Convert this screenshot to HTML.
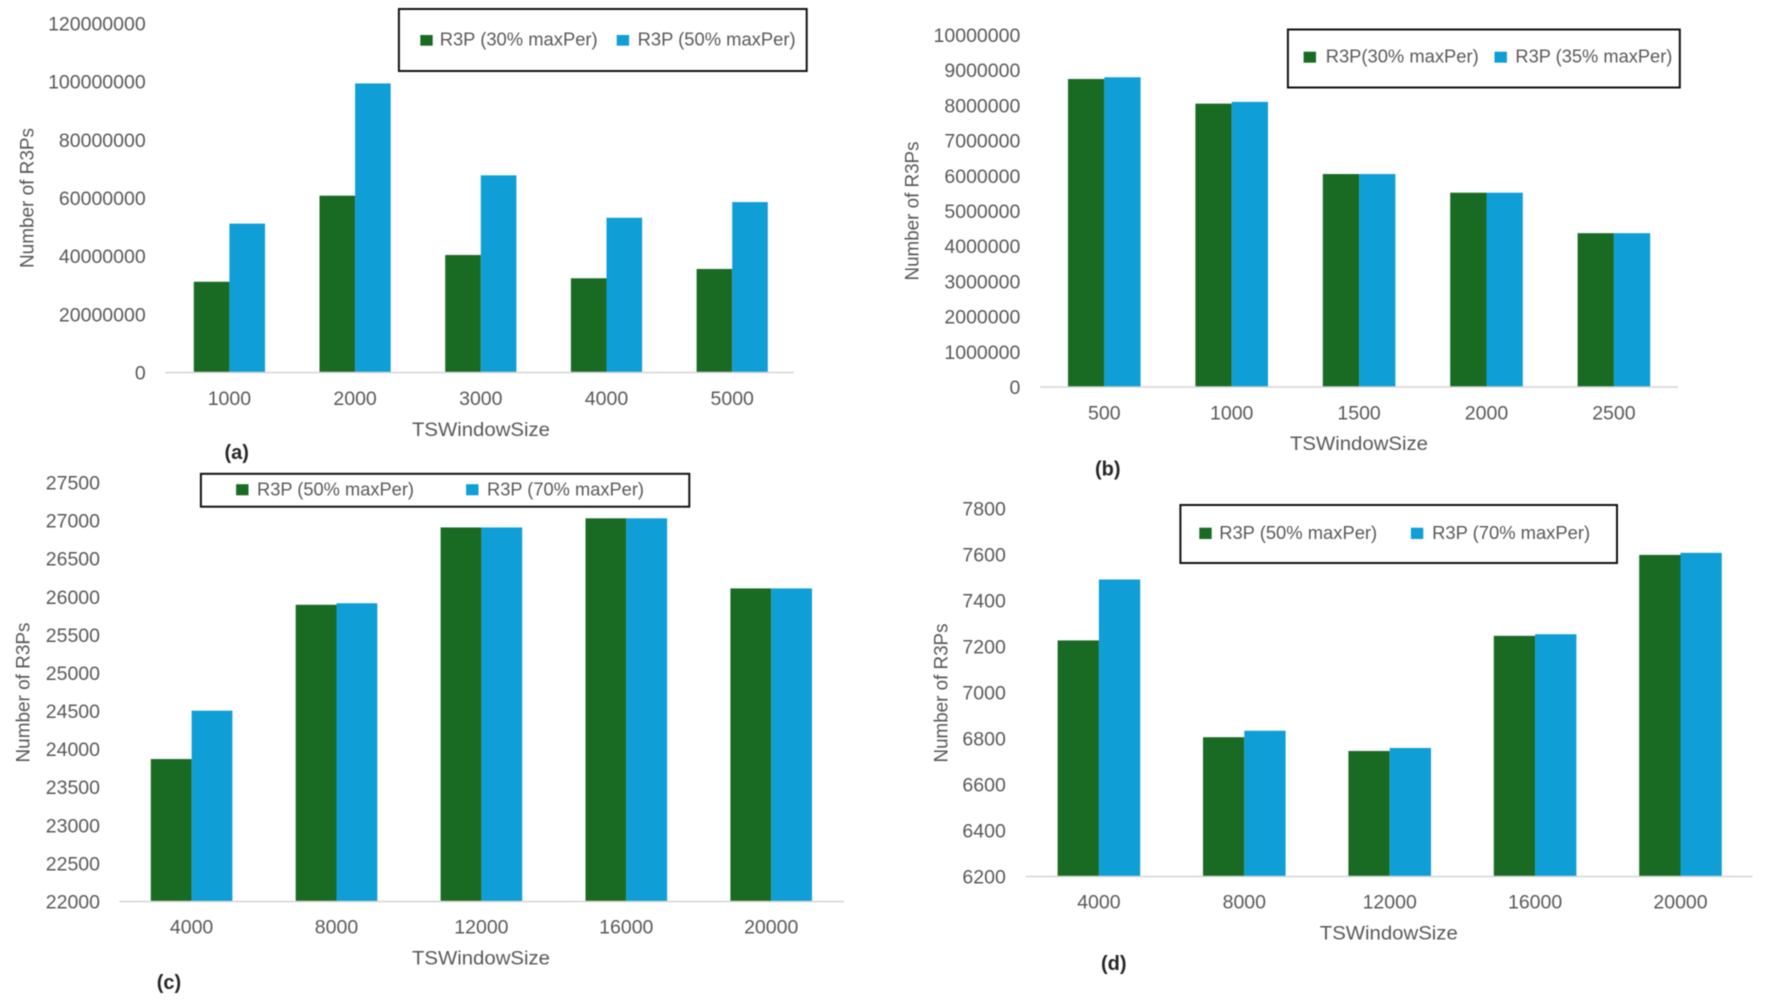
<!DOCTYPE html>
<html lang="en">
<head>
<meta charset="utf-8">
<title>R3P counts by TSWindowSize</title>
<style>
html,body{margin:0;padding:0;background:#fff;width:1772px;height:1002px;overflow:hidden}
svg{display:block;filter:blur(.4px);font-family:"Liberation Sans",Arial,sans-serif}
.tick{font-size:19.5px;fill:#595959}
.legend-label{font-size:18.5px;fill:#595959}
.axis-title{font-size:19.5px;fill:#595959}
.panel-label{font-size:20px;font-weight:bold;fill:#262626}
.legend-box{fill:#fff;stroke:#111;stroke-width:2}
.axis-line{stroke:#d4d4d4;stroke-width:1.5}
</style>
</head>
<body>
<svg id="figure" width="1772" height="1002" viewBox="0 0 1772 1002" xmlns="http://www.w3.org/2000/svg">
  <rect x="0" y="0" width="1772" height="1002" fill="#fff"/>

  <g id="panel-a">
    <text class="axis-title" text-anchor="middle" transform="translate(33.3,198) rotate(-90)" textLength="140" lengthAdjust="spacingAndGlyphs">Number of R3Ps</text>
    <text class="axis-title" text-anchor="middle" x="481" y="436" textLength="138" lengthAdjust="spacingAndGlyphs">TSWindowSize</text>
    <text class="panel-label" text-anchor="middle" x="236.7" y="459">(a)</text>
    <g>
      <rect class="legend-box" x="398.9" y="9" width="407.8" height="62"/>
      <rect x="420.3" y="35" width="12.4" height="10.7" fill="#196B24"/>
      <text class="legend-label" x="439.7" y="45.7" textLength="158" lengthAdjust="spacingAndGlyphs">R3P (30% maxPer)</text>
      <rect x="616.7" y="35" width="12.4" height="10.7" fill="#0F9ED5"/>
      <text class="legend-label" x="637.6" y="45.7" textLength="158" lengthAdjust="spacingAndGlyphs">R3P (50% maxPer)</text>
    </g>
  </g>

  <g id="panel-b">
    <text class="axis-title" text-anchor="middle" transform="translate(918.3,211) rotate(-90)" textLength="139" lengthAdjust="spacingAndGlyphs">Number of R3Ps</text>
    <text class="axis-title" text-anchor="middle" x="1359" y="450" textLength="138" lengthAdjust="spacingAndGlyphs">TSWindowSize</text>
    <text class="panel-label" text-anchor="middle" x="1107.8" y="475.5">(b)</text>
    <g>
      <rect class="legend-box" x="1287.9" y="29.5" width="391.9" height="58"/>
      <rect x="1303.6" y="51.7" width="12.4" height="11" fill="#196B24"/>
      <text class="legend-label" x="1325.7" y="62.7" textLength="153" lengthAdjust="spacingAndGlyphs">R3P(30% maxPer)</text>
      <rect x="1494.5" y="51.7" width="12.4" height="11" fill="#0F9ED5"/>
      <text class="legend-label" x="1515.4" y="62.7" textLength="157" lengthAdjust="spacingAndGlyphs">R3P (35% maxPer)</text>
    </g>
  </g>

  <g id="panel-c">
    <text class="axis-title" text-anchor="middle" transform="translate(29.3,692.5) rotate(-90)" textLength="140" lengthAdjust="spacingAndGlyphs">Number of R3Ps</text>
    <text class="axis-title" text-anchor="middle" x="481" y="964.5" textLength="138" lengthAdjust="spacingAndGlyphs">TSWindowSize</text>
    <text class="panel-label" text-anchor="middle" x="169" y="989">(c)</text>
    <g>
      <rect class="legend-box" x="200.9" y="473.8" width="488.4" height="32.9"/>
      <rect x="236.1" y="484.2" width="12.4" height="11.1" fill="#196B24"/>
      <text class="legend-label" x="257" y="495.3" textLength="157" lengthAdjust="spacingAndGlyphs">R3P (50% maxPer)</text>
      <rect x="466.1" y="484.2" width="12.4" height="11.1" fill="#0F9ED5"/>
      <text class="legend-label" x="487" y="495.3" textLength="157" lengthAdjust="spacingAndGlyphs">R3P (70% maxPer)</text>
    </g>
  </g>

  <g id="panel-d">
    <text class="axis-title" text-anchor="middle" transform="translate(947.7,693) rotate(-90)" textLength="139" lengthAdjust="spacingAndGlyphs">Number of R3Ps</text>
    <text class="axis-title" text-anchor="middle" x="1388.8" y="939.5" textLength="138" lengthAdjust="spacingAndGlyphs">TSWindowSize</text>
    <text class="panel-label" text-anchor="middle" x="1113.8" y="970">(d)</text>
    <g>
      <rect class="legend-box" x="1180.4" y="505" width="436.6" height="58"/>
      <rect x="1199.3" y="527.7" width="12.4" height="11.3" fill="#196B24"/>
      <text class="legend-label" x="1219.2" y="539" textLength="158" lengthAdjust="spacingAndGlyphs">R3P (50% maxPer)</text>
      <rect x="1410.9" y="527.7" width="12.4" height="11.3" fill="#0F9ED5"/>
      <text class="legend-label" x="1432.1" y="539" textLength="158" lengthAdjust="spacingAndGlyphs">R3P (70% maxPer)</text>
    </g>
  </g>
</svg>

<script>
// Chart (a)
const categoriesA = ["1000", "2000", "3000", "4000", "5000"];
const ticksA = [0, 20000000, 40000000, 60000000, 80000000, 100000000, 120000000];
const greenA = [31200000, 60800000, 40400000, 32400000, 35600000];
const blueA = [51200000, 99400000, 67800000, 53200000, 58600000];

// Chart (b)
const categoriesB = ["500", "1000", "1500", "2000", "2500"];
const ticksB = [0, 1000000, 2000000, 3000000, 4000000, 5000000, 6000000, 7000000, 8000000, 9000000, 10000000];
const greenB = [8750000, 8050000, 6050000, 5520000, 4370000];
const blueB = [8800000, 8100000, 6050000, 5520000, 4370000];

// Chart (c)
const categoriesC = ["4000", "8000", "12000", "16000", "20000"];
const ticksC = [22000, 22500, 23000, 23500, 24000, 24500, 25000, 25500, 26000, 26500, 27000, 27500];
const greenC = [23870, 25895, 26910, 27030, 26110];
const blueC = [24505, 25915, 26910, 27030, 26110];

// Chart (d)
const categoriesD = ["4000", "8000", "12000", "16000", "20000"];
const ticksD = [6200, 6400, 6600, 6800, 7000, 7200, 7400, 7600, 7800];
const greenD = [7227, 6806, 6746, 7247, 7599];
const blueD = [7492, 6834, 6759, 7254, 7608];

const GREEN = "#196B24";
const BLUE = "#0F9ED5";
const SVG_NS = "http://www.w3.org/2000/svg";

function svgEl(tag, attrs, parent) {
  const el = document.createElementNS(SVG_NS, tag);
  for (const key in attrs) {
    el.setAttribute(key, attrs[key]);
  }
  parent.appendChild(el);
  return el;
}

function drawChart(id, categories, ticks, green, blue, frame) {
  const panel = document.getElementById("panel-" + id);
  const minV = ticks[0];
  const maxV = ticks[ticks.length - 1];
  const yScale = function (v) {
    return frame.yBase - (v - minV) / (maxV - minV) * (frame.yBase - frame.yTop);
  };
  const xScale = function (i) {
    return frame.xFirst + frame.step * i;
  };

  ticks.forEach(function (t) {
    const label = svgEl("text", {
      "class": "tick",
      "x": frame.labelRight,
      "y": yScale(t) + 7,
      "text-anchor": "end"
    }, panel);
    
    
    label.textContent = String(t);
  });

  categories.forEach(function (c, i) {
    const cx = xScale(i);
    const top1 = yScale(green[i]);
    const top2 = yScale(blue[i]);

    const bar1 = svgEl("rect", {
      "x": cx - frame.barWidth,
      "y": top1,
      "width": frame.barWidth,
      "height": yScale(minV) - top1,
      "fill": GREEN
    }, panel);
    
    

    const bar2 = svgEl("rect", {
      "x": cx,
      "y": top2,
      "width": frame.barWidth,
      "height": yScale(minV) - top2,
      "fill": BLUE
    }, panel);
    
    

    const label = svgEl("text", {
      "class": "tick",
      "x": cx,
      "y": frame.catBaseline,
      "text-anchor": "middle"
    }, panel);
    
    
    label.textContent = c;
  });

  const axis = svgEl("line", {
    "class": "axis-line",
    "x1": frame.axisLeft,
    "x2": frame.axisRight,
    "y1": yScale(minV),
    "y2": yScale(minV)
  }, panel);
  
  
}

drawChart("a", categoriesA, ticksA, greenA, blueA, {
  yBase: 372.5, yTop: 23.5, xFirst: 229.4, step: 125.7, barWidth: 35.6,
  labelRight: 145.7, catBaseline: 405, axisLeft: 165.5, axisRight: 793.8
});
drawChart("b", categoriesB, ticksB, greenB, blueB, {
  yBase: 387, yTop: 35, xFirst: 1104.3, step: 127.4, barWidth: 36.3,
  labelRight: 1020.3, catBaseline: 419.3, axisLeft: 1040.2, axisRight: 1678
});
drawChart("c", categoriesC, ticksC, greenC, blueC, {
  yBase: 901.5, yTop: 482.5, xFirst: 191.6, step: 144.9, barWidth: 40.8,
  labelRight: 100, catBaseline: 933.7, axisLeft: 119.4, axisRight: 844.1
});
drawChart("d", categoriesD, ticksD, greenD, blueD, {
  yBase: 876.5, yTop: 508.7, xFirst: 1098.9, step: 145.4, barWidth: 41.3,
  labelRight: 1005.8, catBaseline: 908.7, axisLeft: 1025.6, axisRight: 1752.5
});
</script>
</body>
</html>
